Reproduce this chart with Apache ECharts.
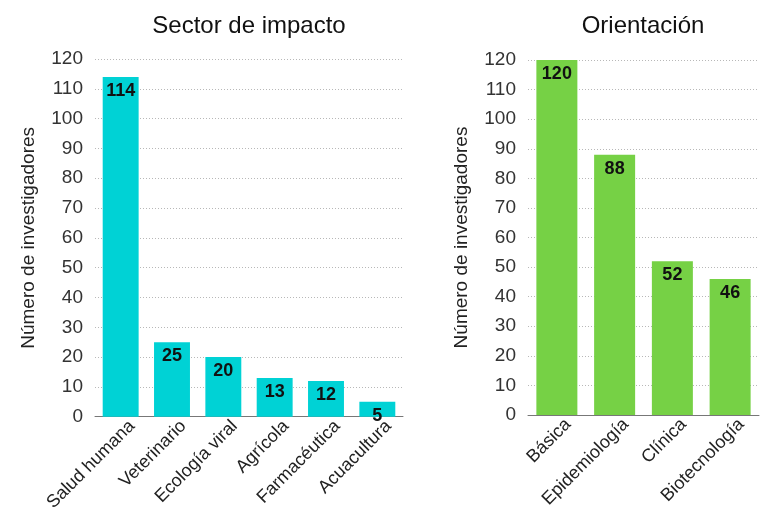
<!DOCTYPE html>
<html>
<head>
<meta charset="utf-8">
<script src="https://cdn.jsdelivr.net/npm/echarts@6/dist/echarts.min.js"></script>
<style>
  html, body { margin: 0; padding: 0; background: #fff; }
  #main { width: 776px; height: 514px; }
</style>
</head>
<body>
<div id="main"></div>
<script>
let sectorCategories = ["Salud humana", "Veterinario", "Ecología viral", "Agrícola", "Farmacéutica", "Acuacultura"];
let sectorValues = [114, 25, 20, 13, 12, 5];
let orientCategories = ["Básica", "Epidemiología", "Clínica", "Biotecnología"];
let orientValues = [120, 88, 52, 46];
let yTicksMax = 120;
let yTicksStep = 10;

let myChart = echarts.init(document.getElementById("main"));
let fontName = "Liberation Sans, Arial, sans-serif";

function yAxisFor(gridIndex) {
  return {
    gridIndex: gridIndex,
    type: "value",
    min: 0,
    max: yTicksMax,
    interval: yTicksStep,
    name: "Número de investigadores",
    nameLocation: "middle",
    nameGap: 57,
    nameTextStyle: { fontSize: 19, color: "#222", fontFamily: fontName },
    axisLine: { show: false },
    axisTick: { show: false },
    axisLabel: { fontSize: 19, color: "#333", fontFamily: fontName, margin: 12 },
    splitLine: { lineStyle: { color: "#b8b8b8", type: [1, 2], width: 1 } },
  };
}

function xAxisFor(gridIndex, cats) {
  return {
    gridIndex: gridIndex,
    type: "category",
    data: cats,
    axisLine: { lineStyle: { color: "#777", width: 1 } },
    axisTick: { show: false },
    axisLabel: {
      rotate: 45,
      fontSize: 18,
      color: "#222",
      fontFamily: fontName,
      margin: 18,
      padding: [0, -16, 0, 0],
      interval: 0,
    },
  };
}

let labelStyle = {
  show: true,
  position: "insideTop",
  distance: 5,
  fontSize: 18,
  fontWeight: "bold",
  color: "#111",
  fontFamily: fontName,
};

let option = {
  animation: false,
  title: [
    {
      text: "Sector de impacto",
      left: 244,
      top: 9,
      textAlign: "center",
      textStyle: { fontSize: 24, fontWeight: "normal", color: "#111", fontFamily: fontName },
    },
    {
      text: "Orientación",
      left: 638,
      top: 9,
      textAlign: "center",
      textStyle: { fontSize: 24, fontWeight: "normal", color: "#111", fontFamily: fontName },
    },
  ],
  grid: [
    { left: 95, right: 373, top: 59, bottom: 97 },
    { left: 528, right: 17, top: 60, bottom: 99 },
  ],
  xAxis: [xAxisFor(0, sectorCategories), xAxisFor(1, orientCategories)],
  yAxis: [yAxisFor(0), yAxisFor(1)],
  series: [
    {
      type: "bar",
      xAxisIndex: 0,
      yAxisIndex: 0,
      data: sectorValues,
      barWidth: "70%",
      itemStyle: { color: "#00d2d5" },
      label: labelStyle,
    },
    {
      type: "bar",
      xAxisIndex: 1,
      yAxisIndex: 1,
      data: orientValues,
      barWidth: "71%",
      itemStyle: { color: "#76d145" },
      label: labelStyle,
    },
  ],
};
myChart.setOption(option);
</script>
</body>
</html>
